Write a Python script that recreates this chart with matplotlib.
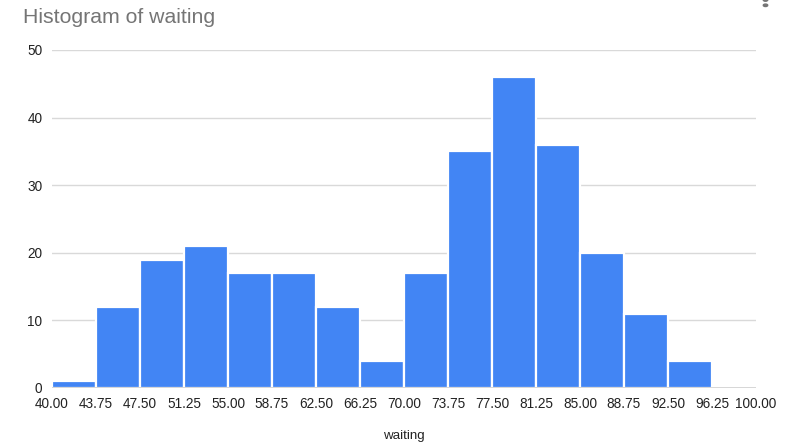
import numpy as np
import matplotlib
matplotlib.use("Agg")
import matplotlib.pyplot as plt
from matplotlib.patches import Circle

# Histogram of Old Faithful waiting times, bins of width 3.75
bin_edges = [40.00, 43.75, 47.50, 51.25, 55.00, 58.75, 62.50, 66.25, 70.00,
             73.75, 77.50, 81.25, 85.00, 88.75, 92.50, 96.25, 100.00]
counts = [1, 12, 19, 21, 17, 17, 12, 4, 17, 35, 46, 36, 20, 11, 4, 0]
y_ticks = [0, 10, 20, 30, 40, 50]

plt.rcParams['font.family'] = ['Liberation Sans', 'DejaVu Sans']

fig = plt.figure(figsize=(7.92, 4.42), dpi=100)
ax = fig.add_axes([0.0657, 0.1222, 0.8888, 0.7647])

lefts = np.array(bin_edges[:-1])
widths = np.diff(bin_edges)
ax.bar(lefts, counts, width=widths, align='edge', color='#4285F4',
       edgecolor='white', linewidth=1.6, zorder=3)

ax.set_xlim(bin_edges[0], bin_edges[-1])
ax.set_ylim(0, 50)
ax.set_xticks(bin_edges)
ax.set_xticklabels([f"{v:.2f}" for v in bin_edges])
ax.set_yticks(y_ticks)
ax.set_yticklabels([str(v) for v in y_ticks])

ax.grid(axis='y', color='#d9d9d9', linewidth=1, zorder=0)
ax.axhline(0, color='#333333', linewidth=1, zorder=4)
for s in ax.spines.values():
    s.set_visible(False)
ax.tick_params(axis='both', length=0, labelsize=9.8, colors='#222222')
ax.tick_params(axis='x', pad=6.5)
ax.tick_params(axis='y', pad=7)

ax.set_xlabel('waiting', fontsize=9.6, color='#222222', labelpad=14)

fig.text(0.029, 0.961, 'Histogram of waiting', fontsize=15.3, color='#757575',
         ha='left', va='center')

# overflow menu dots in the top-right corner
for yy in (0.0, 5.3):
    fig.patches.append(Circle((765.5 / 792, 1 - yy / 442), 2.2 / 792,
                              transform=fig.transFigure, color='#757575'))

fig.savefig('out.png', dpi=100)
